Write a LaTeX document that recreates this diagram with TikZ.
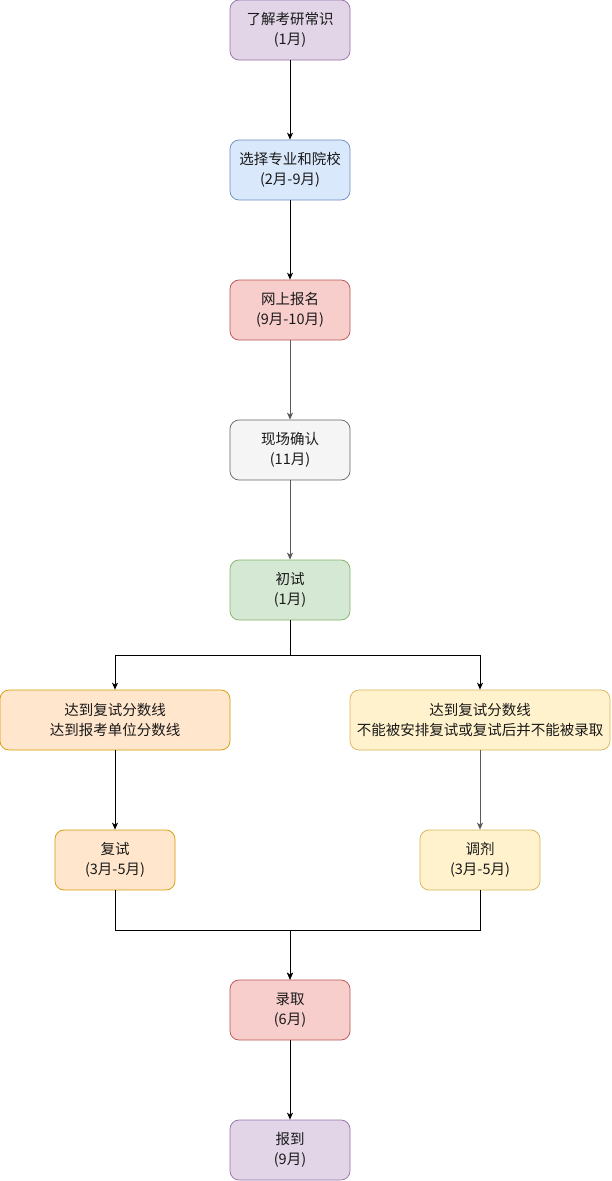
\documentclass[tikz,border=0pt]{standalone}
\usepackage{fontspec}
\newfontfamily\cjk{Noto Sans CJK SC}
\usetikzlibrary{arrows.meta}
\definecolor{purplefill}{HTML}{E1D5E7}\definecolor{purpleline}{HTML}{9673A6}
\definecolor{bluefill}{HTML}{DAE8FC}\definecolor{blueline}{HTML}{6C8EBF}
\definecolor{redfill}{HTML}{F8CECC}\definecolor{redline}{HTML}{B85450}
\definecolor{greyfill}{HTML}{F5F5F5}\definecolor{greyline}{HTML}{666666}
\definecolor{greenfill}{HTML}{D5E8D4}\definecolor{greenline}{HTML}{82B366}
\definecolor{orangefill}{HTML}{FFE6CC}\definecolor{orangeline}{HTML}{D79B00}
\definecolor{yellowfill}{HTML}{FFF2CC}\definecolor{yellowline}{HTML}{D6B656}
\tikzset{
  box/.style={draw, rounded corners=9pt, minimum width=120pt, minimum height=60pt,
    align=center, inner sep=1pt, line width=0.75pt, text=black!90,
    font=\cjk\fontsize{14.5}{20}\selectfont},
  purplebox/.style={box, fill=purplefill, draw=purpleline},
  bluebox/.style={box, fill=bluefill, draw=blueline},
  redbox/.style={box, fill=redfill, draw=redline},
  greybox/.style={box, fill=greyfill, draw=greyline},
  greenbox/.style={box, fill=greenfill, draw=greenline},
  orangebox/.style={box, fill=orangefill, draw=orangeline},
  yellowbox/.style={box, fill=yellowfill, draw=yellowline},
  flow/.style={line width=0.75pt, -{Stealth[length=7pt,width=6pt,inset=2pt]}},
  greyflow/.style={flow, draw=black!65}
}
\begin{document}
\begin{tikzpicture}[x=1pt,y=-1pt]
  \useasboundingbox (0,0) rectangle (611,1181);
  \node[purplebox] (know) at (290,30) {了解考研常识\\(1月)};
  \node[bluebox] (choose) at (290,170) {选择专业和院校\\(2月-9月)};
  \node[redbox] (signup) at (290,310) {网上报名\\(9月-10月)};
  \node[greybox] (confirm) at (290,450) {现场确认\\(11月)};
  \node[greenbox] (exam) at (290,590) {初试\\(1月)};
  \node[orangebox, minimum width=230pt] (pass) at (115,720) {达到复试分数线\\达到报考单位分数线};
  \node[yellowbox, minimum width=260pt] (fail) at (480,720) {达到复试分数线\\不能被安排复试或复试后并不能被录取};
  \node[orangebox] (retest) at (115,860) {复试\\(3月-5月)};
  \node[yellowbox] (adjust) at (480,860) {调剂\\(3月-5月)};
  \node[redbox] (admit) at (290,1010) {录取\\(6月)};
  \node[purplebox] (report) at (290,1150) {报到\\(9月)};

  \draw[flow] (know) -- (choose);
  \draw[flow] (choose) -- (signup);
  \draw[greyflow] (signup) -- (confirm);
  \draw[greyflow] (confirm) -- (exam);
  \draw[flow] (exam.south) -- ++(0,35) -| (pass);
  \draw[flow] (exam.south) -- ++(0,35) -| (fail);
  \draw[flow] (pass) -- (retest);
  \draw[greyflow] (fail) -- (adjust);
  \draw[flow] (retest.south) -- ++(0,40) -| (admit);
  \draw[flow] (adjust.south) -- ++(0,40) -| (admit);
  \draw[flow] (admit) -- (report);
\end{tikzpicture}
\end{document}
